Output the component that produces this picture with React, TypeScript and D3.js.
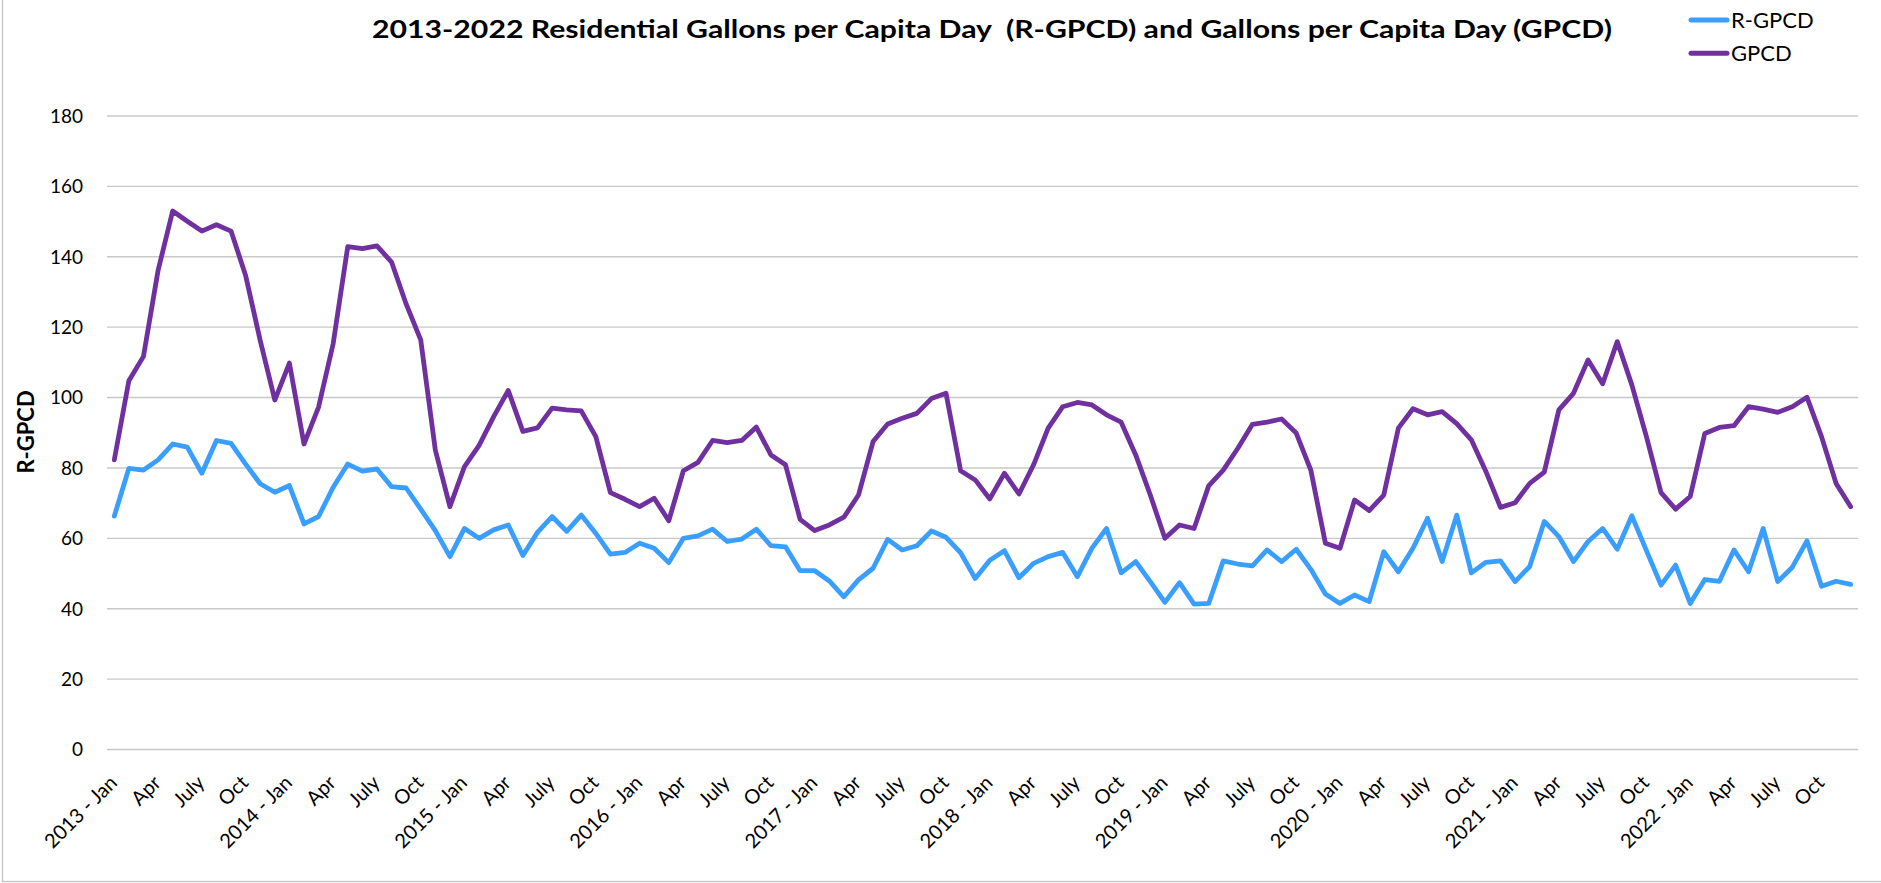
import React from 'react';
import * as d3 from 'd3';

const years = [2013, 2014, 2015, 2016, 2017, 2018, 2019, 2020, 2021, 2022];
const months = ['Jan', 'Feb', 'Mar', 'Apr', 'May', 'June', 'July', 'Aug', 'Sept', 'Oct', 'Nov', 'Dec'];
const categories = years.flatMap((y) => months.map((m) => `${y} - ${m}`));

// residential gallons per capita day
const rgpcd = [
  66.3, 79.9, 79.4, 82.3, 86.8, 85.9, 78.5, 87.8, 87.0, 81.1, 75.5, 73.1,
  75.0, 64.1, 66.2, 74.5, 81.1, 79.1, 79.7, 74.7, 74.3, 68.3, 62.2, 54.8,
  62.8, 60.0, 62.4, 63.8, 55.1, 61.7, 66.2, 62.0, 66.6, 61.4, 55.5, 56.0,
  58.6, 57.2, 53.1, 60.0, 60.7, 62.6, 59.1, 59.8, 62.6, 57.9, 57.6, 50.8,
  50.8, 47.9, 43.4, 48.2, 51.5, 59.7, 56.7, 57.9, 62.1, 60.3, 55.9, 48.6,
  53.8, 56.5, 48.8, 52.9, 54.8, 56.0, 49.1, 57.2, 62.8, 50.2, 53.4, 47.7,
  41.8, 47.4, 41.3, 41.5, 53.6, 52.7, 52.2, 56.7, 53.4, 56.9, 51.2, 44.2,
  41.5, 43.9, 42.0, 56.2, 50.5, 57.2, 65.7, 53.4, 66.6, 50.2, 53.2, 53.6,
  47.7, 52.0, 64.8, 60.5, 53.4, 59.1, 62.8, 56.9, 66.4, 56.5, 46.7, 52.4,
  41.5, 48.3, 47.8, 56.7, 50.5, 62.8, 47.7, 51.8, 59.3, 46.4, 47.8, 46.9,
];

// gallons per capita day
const gpcd = [
  82.3, 104.8, 111.7, 136.1, 153.0, 150.1, 147.3, 149.1, 147.3, 134.7, 116.2, 99.3,
  109.8, 86.8, 97.3, 115.3, 142.9, 142.3, 143.1, 138.5, 126.6, 116.4, 85.1, 69.0,
  80.4, 86.4, 94.6, 102.0, 90.4, 91.4, 97.0, 96.5, 96.2, 88.9, 73.0, 71.1,
  69.0, 71.4, 65.0, 79.2, 81.6, 87.8, 87.2, 87.8, 91.6, 83.7, 80.9, 65.4,
  62.2, 63.8, 66.0, 72.3, 87.5, 92.5, 94.1, 95.5, 99.7, 101.2, 79.2, 76.6,
  71.2, 78.5, 72.6, 80.9, 91.3, 97.4, 98.6, 97.9, 95.1, 93.0, 83.7, 72.3,
  60.0, 63.8, 62.8, 74.9, 79.4, 85.6, 92.4, 93.0, 93.9, 89.9, 79.4, 58.6,
  57.2, 70.9, 67.9, 72.3, 91.3, 96.8, 95.1, 96.0, 92.6, 88.0, 79.0, 68.8,
  70.1, 75.6, 78.8, 96.5, 101.2, 110.7, 103.9, 115.9, 103.6, 88.9, 73.0, 68.3,
  71.9, 89.8, 91.5, 92.0, 97.4, 96.7, 95.8, 97.4, 100.1, 88.9, 75.6, 69.0,
];

const yTicks = [0, 20, 40, 60, 80, 100, 120, 140, 160, 180];
const tickMonths = ['Jan', 'Apr', 'July', 'Oct'];

const title = '2013-2022 Residential Gallons per Capita Day  (R-GPCD) and Gallons per Capita Day (GPCD)';
const series = [
  { name: 'R-GPCD', values: rgpcd, color: '#3A9EFF' },
  { name: 'GPCD', values: gpcd, color: '#7030A0' },
];

const W = 1881;
const H = 883;
const font = 'Lato, "Open Sans", sans-serif';

function tickLabel(c: string) {
  const m = c.split(' - ')[1];
  return m === 'Jan' ? c : m;
}

export default function App() {
  const x = d3.scalePoint<string>().domain(categories).range([107, 1858]).padding(0.5);
  const y = d3.scaleLinear().domain([0, 180]).range([749.5, 116]);

  const line = d3
    .line<number>()
    .x((_, i) => x(categories[i]) as number)
    .y((d) => y(d));

  const ticks = categories.filter((c) => tickMonths.includes(c.split(' - ')[1]));

  return (
    <svg width={W} height={H} style={{ position: 'absolute', left: 0, top: 0, background: '#fff' }}>
      <rect x={2.5} y={-2} width={W + 2} height={883.5} fill="#fff" stroke="#c4c4c4" strokeWidth={1.3} />

      {/* grid */}
      {yTicks.map((t) => (
        <g key={t}>
          <line x1={107} x2={1858} y1={y(t)} y2={y(t)} stroke="#c8c8c8" strokeWidth={1.4} />
          <text x={83} y={y(t)} dy="0.36em" textAnchor="end" fontFamily={font} fontSize={19} fill="#000">
            {t}
          </text>
        </g>
      ))}

      {/* x labels */}
      {ticks.map((c) => (
        <text
          key={c}
          transform={`translate(${(x(c) as number) + 4},784) rotate(-45)`}
          textAnchor="end"
          fontFamily={font}
          fontSize={20}
          fill="#000"
        >
          {tickLabel(c)}
        </text>
      ))}

      {/* lines */}
      {series.map((s) => (
        <path
          key={s.name}
          d={line(s.values) || ''}
          fill="none"
          stroke={s.color}
          strokeWidth={4.8}
          strokeLinejoin="round"
          strokeLinecap="round"
        />
      ))}

      {/* title */}
      <text
        x={992}
        y={38}
        textAnchor="middle"
        fontFamily={font}
        fontWeight="bold"
        fontSize={25}
        textLength={1240}
        lengthAdjust="spacingAndGlyphs"
        style={{ whiteSpace: 'pre' }}
        fill="#000"
      >
        {title}
      </text>

      {/* y axis title */}
      <text
        transform="translate(34,432) rotate(-90)"
        textAnchor="middle"
        fontFamily={font}
        fontWeight="bold"
        fontSize={22}
        fill="#000"
      >
        R-GPCD
      </text>

      {/* legend */}
      {series.map((s, i) => (
        <g key={s.name} transform={`translate(0,${20 + i * 33.3})`}>
          <line x1={1691} x2={1727} y1={0} y2={0} stroke={s.color} strokeWidth={5} strokeLinecap="round" />
          <text x={1731} y={0} dy="0.36em" fontFamily={font} fontSize={22} fill="#000">
            {s.name}
          </text>
        </g>
      ))}
    </svg>
  );
}
